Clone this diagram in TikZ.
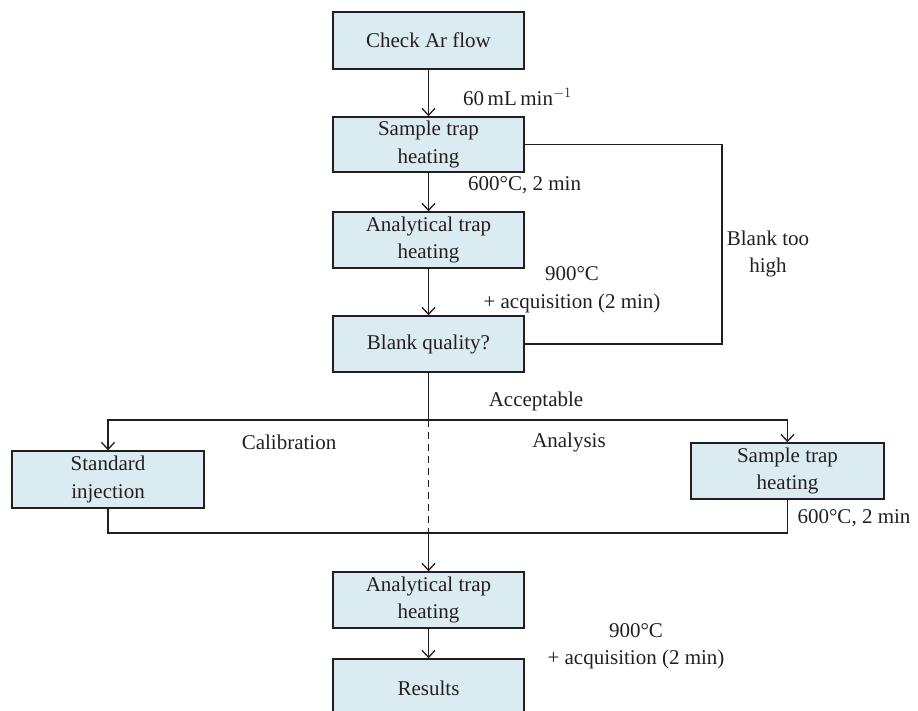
\documentclass[tikz,border=0pt]{standalone}
\usepackage{fontspec}
\setmainfont{Liberation Serif}
\usetikzlibrary{arrows.meta}
\definecolor{boxfill}{RGB}{218,235,241}
\definecolor{ink}{RGB}{35,31,32}
\begin{document}
\begin{tikzpicture}[x=1pt,y=-1pt,
  every node/.style={font=\fontsize{21}{27.5}\selectfont, text=ink},
  stepbox/.style={draw=ink, line width=1.4pt, fill=boxfill, minimum width=191pt, minimum height=56pt, inner sep=2pt, align=center},
  conn/.style={draw=ink, line width=1.3pt},
  arr/.style={conn, -{Straight Barb[length=7pt,width=13pt,line width=1.3pt]}},
  lbl/.style={align=center, inner sep=0pt}
]
\useasboundingbox (0,0) rectangle (918,711);
\clip (0,0) rectangle (918,711);

\node[stepbox, minimum height=57pt] (check) at (428.5,40.5) {Check Ar flow};
\node[stepbox, minimum height=55pt] (s1) at (428.5,144.5) {Sample trap\\heating};
\node[stepbox] (a1) at (428.5,240) {Analytical trap\\heating};
\node[stepbox] (blank) at (428.5,344) {Blank quality?};
\node[stepbox, minimum width=192pt, minimum height=57pt] (std) at (108,479.5) {Standard\\injection};
\node[stepbox, minimum width=193pt] (s2) at (787.5,471) {Sample trap\\heating};
\node[stepbox] (a2) at (428.5,600) {Analytical trap\\heating};
\node[stepbox, minimum height=58pt] (res) at (428.5,688) {Results};

\coordinate (fb) at (722,0);
\coordinate (split) at (428.5,420);
\coordinate (join) at (428.5,533);

\draw[arr] (check) -- (s1);
\draw[arr] (s1) -- (a1);
\draw[arr] (a1) -- (blank);
\draw[conn] (blank.east) -- (blank.east -| fb) -- (s1.east -| fb) -- (s1.east);
\draw[conn] (blank.south) -- (split);
\draw[arr] (split) -| (std.north);
\draw[arr] (split) -| (s2.north);
\draw[conn, dash pattern=on 7pt off 5pt] (split) -- (join);
\draw[conn] (std.south) |- (join);
\draw[conn] (s2.south) |- (join);
\draw[arr] (join) -- (a2);
\draw[arr] (a2) -- (res);

\node[lbl, anchor=west] (l1) at (463,97) {60\,mL\,min$^{-1}$};
\node[lbl, anchor=west] (l2) at (468,185) {600\textdegree C, 2 min};
\node[lbl] (l3) at (572,290) {900\textdegree C\\+ acquisition (2 min)};
\node[lbl] (l4) at (768,254) {Blank too\\high};
\node[lbl] (l5) at (536,401) {Acceptable};
\node[lbl] (l6) at (289,442) {Calibration};
\node[lbl] (l7) at (569,442) {Analysis};
\node[lbl] (l8) at (854,518) {600\textdegree C, 2 min};
\node[lbl] (l9) at (636,646) {900\textdegree C\\+ acquisition (2 min)};
\end{tikzpicture}
\end{document}
